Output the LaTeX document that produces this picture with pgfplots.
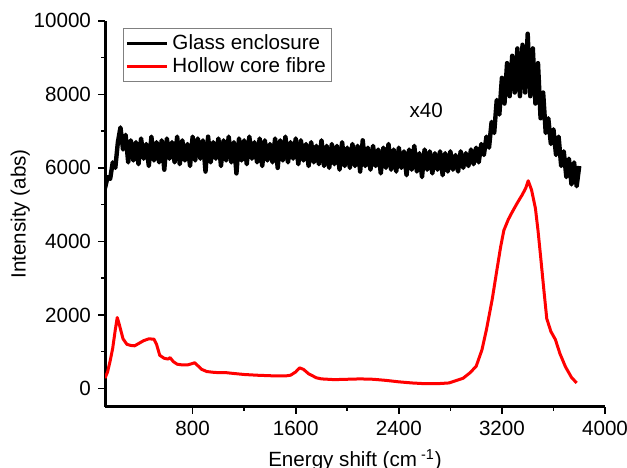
\documentclass[border=0pt]{standalone}
\usepackage{fontspec}
\setmainfont{Liberation Sans}
\usepackage{pgfplots}
\pgfplotsset{compat=1.18}

\begin{document}
\begin{tikzpicture}
\begin{axis}[
    width=250pt, height=193pt,
    scale only axis,
    font=\fontsize{10.3}{12}\selectfont,
    axis x line=bottom, axis y line=left,
    axis line style={-, line width=1.5pt},
    tick align=outside,
    major tick length=3.5pt, minor tick length=2pt,
    every tick/.style={black, line width=0.8pt},
    xmin=120, xmax=4000,
    ymin=-500, ymax=10000,
    xtick={800,1600,2400,3200,4000},
    ytick={0,2000,4000,6000,8000,10000},
    minor x tick num=1, minor y tick num=1,
    scaled ticks=false,
    /pgf/number format/set thousands separator={},
    /pgf/number format/assume math mode=true,
    xlabel={Energy shift (cm\textsuperscript{ -1})},
    ylabel={Intensity (abs)},
    xlabel style={yshift=0pt},
    ylabel style={yshift=-5pt},
    legend style={at={(0.036,0.982)}, anchor=north west, draw=gray, line width=0.5pt,
        font=\fontsize{10.3}{11.5}\selectfont, inner sep=1pt, row sep=-1.5pt},
    legend cell align=left,
    legend image code/.code={\draw[#1, line width=1.5pt] (0pt,0pt) -- (20pt,0pt);},
]
\addplot[black, line width=2.2pt, line join=round] coordinates {
(120,5450) (140,5750) (160,5700) (180,6150) (200,6000) (220,6700) (240,7100) (260,6500)
(280,6900) (300,6150) (320,6750) (340,6200) (360,6700) (380,6100) (400,6800) (420,6250)
(440,6650) (460,6050) (480,6850) (500,6200) (520,6700) (540,6150) (560,6750) (580,5950)
(600,6800) (620,6250) (640,6700) (660,6150) (680,6850) (700,6100) (720,6750) (740,6200)
(760,6650) (780,6050) (800,6850) (820,6200) (840,6800) (860,6250) (880,6750) (900,5900)
(920,6850) (940,6150) (960,6700) (980,6250) (1000,6800) (1020,6050) (1040,6750) (1060,6200)
(1080,6850) (1100,6150) (1120,6700) (1140,5850) (1160,6800) (1180,6200) (1200,6750) (1220,6100)
(1240,6850) (1260,6250) (1280,6700) (1300,6150) (1320,6800) (1340,6050) (1360,6750) (1380,6200)
(1400,6650) (1420,6150) (1440,6800) (1460,6000) (1480,6750) (1500,6200) (1520,6850) (1540,6150)
(1560,6700) (1580,6250) (1600,6800) (1620,6100) (1640,6750) (1660,6200) (1680,6650) (1700,6050)
(1720,6700) (1740,6150) (1760,6600) (1780,6100) (1800,6750) (1820,6050) (1840,6600) (1860,6000)
(1880,6650) (1900,6100) (1920,6600) (1940,5950) (1960,6700) (1980,6050) (2000,6550) (2020,6000)
(2040,6650) (2060,6050) (2080,6600) (2100,5900) (2120,6750) (2140,6050) (2160,6550) (2180,5950)
(2200,6600) (2220,6050) (2240,6500) (2260,5850) (2280,6550) (2300,6000) (2320,6650) (2340,5950)
(2360,6500) (2380,5900) (2400,6550) (2420,6000) (2440,6450) (2460,5800) (2480,6500) (2500,5950)
(2520,6600) (2540,5900) (2560,6400) (2580,5750) (2600,6500) (2620,5950) (2640,6450) (2660,5850)
(2680,6400) (2700,5950) (2720,6450) (2740,5800) (2760,6400) (2780,5900) (2800,6450) (2820,5950)
(2840,6350) (2860,5900) (2880,6450) (2900,6000) (2920,6400) (2940,6050) (2960,6500) (2980,6100)
(3000,6550) (3020,6150) (3040,6650) (3060,6350) (3080,6850) (3100,6550) (3120,7250) (3140,6950)
(3160,7850) (3180,7450) (3200,8450) (3220,7750) (3240,8850) (3260,7950) (3280,9050) (3300,8050)
(3320,9250) (3340,7950) (3360,9350) (3380,8050) (3400,9650) (3420,7950) (3440,9250) (3460,7750)
(3480,8850) (3500,7350) (3520,8050) (3540,6950) (3560,7350) (3580,6650) (3600,7050) (3620,6350)
(3640,6850) (3660,6050) (3680,6450) (3700,5750) (3720,6250) (3740,5550) (3760,6150) (3780,5500)
(3800,6050)
};
\addplot[red, line width=1.5pt, line join=round] coordinates {
(120,280) (140,450) (160,750) (180,1100) (200,1600) (215,1930) (230,1750) (260,1350)
(290,1200) (320,1170) (350,1160) (380,1220) (420,1300) (460,1350) (500,1340) (520,1200)
(545,900) (580,820) (610,800) (625,840) (650,730) (680,660) (720,640) (760,640)
(800,680) (816,700) (840,620) (870,520) (910,460) (960,440) (1000,430) (1060,430)
(1112,410) (1200,380) (1300,360) (1373,350) (1450,340) (1520,340) (1560,360) (1600,450)
(1630,560) (1660,520) (1700,400) (1760,290) (1800,260) (1900,240) (2000,250) (2100,260)
(2200,250) (2300,220) (2400,180) (2500,150) (2600,130) (2700,130) (2790,150) (2850,220)
(2900,280) (2950,420) (3000,600) (3045,1050) (3080,1600) (3125,2430) (3160,3200) (3190,3850)
(3215,4300) (3250,4600) (3280,4800) (3320,5050) (3358,5270) (3385,5450) (3404,5650) (3430,5400)
(3460,4900) (3480,4300) (3500,3600) (3525,2700) (3548,1900) (3580,1550) (3615,1330) (3650,950)
(3693,590) (3740,300) (3780,150)
};
\legend{Glass enclosure, Hollow core fibre}
\node[font=\fontsize{10.3}{12}\selectfont] at (axis cs:2613,7570) {x40};
\coordinate (bl) at (rel axis cs:-0.21,-0.158);
\coordinate (tr) at (rel axis cs:1.044,1.054);
\end{axis}
\pgfresetboundingbox
\useasboundingbox (bl) rectangle (tr);
\end{tikzpicture}
\end{document}
